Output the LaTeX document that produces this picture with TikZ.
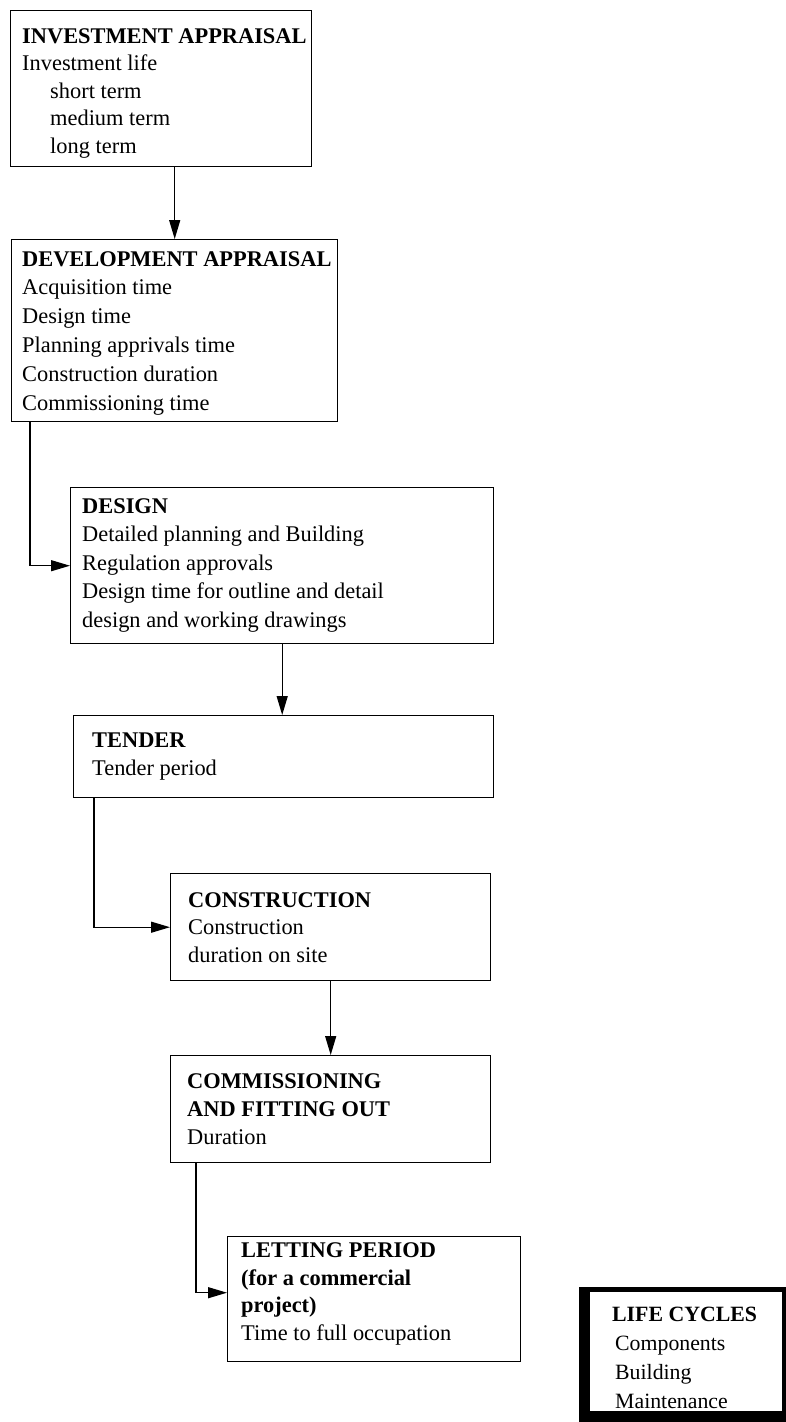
\documentclass[tikz,border=0pt]{standalone}
\usepackage{fontspec}
\setmainfont{Liberation Serif}
\usetikzlibrary{arrows.meta}
\begin{document}
\begin{tikzpicture}[x=1pt,y=-1pt,
  box/.style={draw, line width=1.4pt, anchor=north west, inner sep=0pt, rectangle},
  txt/.style={anchor=base west, inner sep=0pt, align=left, font=\fontsize{22.4}{28.5}\selectfont},
  conn/.style={line width=1.3pt, -{Triangle[length=19pt,width=11pt]}}]
\useasboundingbox[fill=white] (0,0) rectangle (786,1422);
% boxes
\node[box, minimum width=301pt, minimum height=156pt] (ia) at (10,10) {};
\node[box, minimum width=326pt, minimum height=182pt] (da) at (11,239) {};
\node[box, minimum width=423pt, minimum height=156pt] (de) at (70,487) {};
\node[box, minimum width=420pt, minimum height=82pt] (te) at (73,715) {};
\node[box, minimum width=320pt, minimum height=107pt] (co) at (170,873) {};
\node[box, minimum width=320pt, minimum height=107pt] (cf) at (170,1055) {};
\node[box, minimum width=293pt, minimum height=125pt] (le) at (227,1236) {};
% life cycles framed box
\fill[black] (579,1287) rectangle (786,1422);
\node[anchor=north west, fill=white, inner sep=0pt, minimum width=192pt, minimum height=119pt] (lc) at (590,1292) {};
% texts (anchored at the baseline of their last line)
\node[txt, font=\fontsize{22.4}{27.5}\selectfont] (iat) at (22,153) {\textbf{INVESTMENT APPRAISAL}\\Investment life\\\hspace*{28pt}short term\\\hspace*{28pt}medium term\\\hspace*{28pt}long term};
\node[txt, font=\fontsize{22.4}{28.8}\selectfont] (dat) at (22,410) {\textbf{DEVELOPMENT APPRAISAL}\\Acquisition time\\Design time\\Planning apprivals time\\Construction duration\\Commissioning time};
\node[txt] (det) at (82,627) {\textbf{DESIGN}\\Detailed planning and Building\\Regulation approvals\\Design time for outline and detail\\design and working drawings};
\node[txt, font=\fontsize{22.4}{28}\selectfont] (tet) at (92,775) {\textbf{TENDER}\\Tender period};
\node[txt, font=\fontsize{22.4}{27.5}\selectfont] (cot) at (188,962) {\textbf{CONSTRUCTION}\\Construction\\duration on site};
\node[txt, font=\fontsize{22.4}{28}\selectfont] (cft) at (187,1144) {\textbf{COMMISSIONING}\\\textbf{AND FITTING OUT}\\Duration};
\node[txt, font=\fontsize{22.4}{27.5}\selectfont] (let) at (241,1340) {\textbf{LETTING PERIOD}\\\textbf{(for a commercial}\\\textbf{project)}\\Time to full occupation};
\node[txt, font=\fontsize{21.8}{28.7}\selectfont] (lct) at (612,1408) {\textbf{LIFE CYCLES}\\\hspace*{3pt}Components\\\hspace*{3pt}Building\\\hspace*{3pt}Maintenance};
% connectors
\draw[conn] (da.north |- ia.south) -- (da.north);
\draw[conn] ([xshift=19pt]da.south west) |- (de.west);
\draw[conn] (de.south) -- (de.south |- te.north);
\draw[conn] ([xshift=21pt]te.south west) |- (co.west);
\draw[conn] (co.south) -- (cf.north);
\draw[conn] ([xshift=26pt]cf.south west) |- ([yshift=6.5pt]le.west);
\end{tikzpicture}
\end{document}
